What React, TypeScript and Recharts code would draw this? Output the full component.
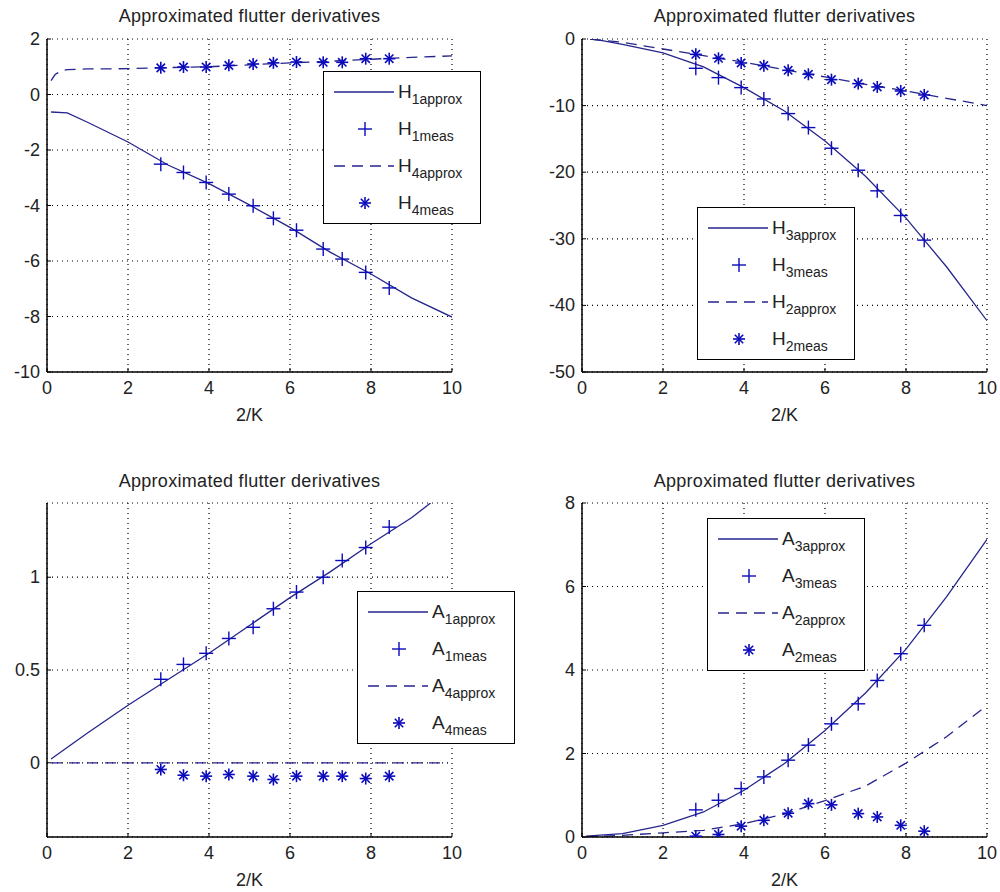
import React from "react";
import { CartesianGrid, ComposedChart, Label, Line, Scatter, XAxis, YAxis } from "recharts";

const LINE = "#25258c";
const MARK = "#0b0bbb";
const FONT = "Arial, 'Liberation Sans', Helvetica, sans-serif";

// reduced velocity (2/K) of the measured points, shared by all four panels
const kMeas = [2.81, 3.37, 3.93, 4.49, 5.09, 5.59, 6.16, 6.82, 7.29, 7.87, 8.45];

const h1Meas = [-2.51, -2.81, -3.17, -3.59, -4.01, -4.46, -4.89, -5.57, -5.93, -6.41, -6.97];
const h4Meas = [0.96, 0.99, 0.99, 1.05, 1.1, 1.14, 1.17, 1.16, 1.16, 1.29, 1.29];
const h3Meas = [-4.4, -5.8, -7.3, -9.0, -11.2, -13.3, -16.4, -19.7, -22.8, -26.5, -30.2];
const h2Meas = [-2.3, -2.9, -3.6, -4.0, -4.7, -5.3, -6.1, -6.7, -7.2, -7.8, -8.4];
const a1Meas = [0.45, 0.53, 0.59, 0.67, 0.73, 0.83, 0.92, 1.0, 1.09, 1.16, 1.27];
const a4Meas = [-0.036, -0.067, -0.072, -0.063, -0.072, -0.09, -0.072, -0.072, -0.072, -0.085, -0.072];
const a3Meas = [0.65, 0.88, 1.16, 1.44, 1.84, 2.2, 2.71, 3.19, 3.75, 4.39, 5.07];
const a2Meas = [0.02, 0.06, 0.26, 0.4, 0.57, 0.8, 0.77, 0.56, 0.48, 0.28, 0.14];

// approximated curves
const h1K = [0.1, 0.5, 1, 2, 3, 4, 5, 6, 7, 8, 9, 10];
const h1Approx = [-0.63, -0.66, -1.0, -1.71, -2.55, -3.21, -3.98, -4.79, -5.69, -6.47, -7.33, -8.02];
const h4K = [0.1, 0.2, 0.35, 0.5, 1, 2, 3, 4, 5, 6, 7, 8, 9, 10];
const h4Approx = [0.5, 0.72, 0.85, 0.9, 0.92, 0.93, 0.97, 1.0, 1.07, 1.14, 1.2, 1.27, 1.34, 1.39];
const h3K = [0.2, 0.5, 1, 2, 3, 4, 5, 6, 7, 8, 9, 10];
const h3Approx = [0, -0.25, -0.8, -2.1, -4.2, -7.3, -10.8, -15.3, -20.6, -26.9, -34.2, -42.3];
const h2K = [0.2, 1, 2, 3, 4, 5, 6, 7, 8, 9, 10];
const h2Approx = [0, -0.5, -1.5, -2.5, -3.5, -4.6, -5.7, -6.8, -7.8, -8.9, -10.0];
const a1K = [0.1, 1, 2, 3, 4, 5, 6, 7, 8, 9, 9.47];
const a1Approx = [0.02, 0.16, 0.31, 0.45, 0.59, 0.74, 0.89, 1.03, 1.18, 1.32, 1.4];
const a4K = [0.1, 9.9];
const a4Approx = [0, 0];
const a3K = [0.1, 1, 2, 3, 4, 5, 6, 7, 8, 9, 10];
const a3Approx = [0.02, 0.08, 0.28, 0.6, 1.12, 1.76, 2.55, 3.45, 4.5, 5.75, 7.13];
const a2K = [0.1, 1, 2, 3, 4, 5, 6, 7, 8, 9, 10];
const a2Approx = [0, 0.04, 0.1, 0.16, 0.32, 0.55, 0.87, 1.22, 1.77, 2.4, 3.15];

const kTicks = [0, 2, 4, 6, 8, 10];

type Pt = { x: number; y: number };
const pts = (xs: number[], ys: number[]): Pt[] => xs.map((x, i) => ({ x, y: ys[i] }));

function PlusMark({ cx, cy }: any) {
  if (cx == null || cy == null) return null;
  const r = 7;
  return (
    <g stroke={MARK} strokeWidth={1.4}>
      <line x1={cx - r} y1={cy} x2={cx + r} y2={cy} />
      <line x1={cx} y1={cy - r} x2={cx} y2={cy + r} />
    </g>
  );
}

function StarMark({ cx, cy }: any) {
  if (cx == null || cy == null) return null;
  const r = 6;
  const d = 4.2;
  return (
    <g stroke={MARK} strokeWidth={1.6}>
      <line x1={cx - r} y1={cy} x2={cx + r} y2={cy} />
      <line x1={cx} y1={cy - r} x2={cx} y2={cy + r} />
      <line x1={cx - d} y1={cy - d} x2={cx + d} y2={cy + d} />
      <line x1={cx - d} y1={cy + d} x2={cx + d} y2={cy - d} />
    </g>
  );
}

function XTick({ x, y, payload }: any) {
  return (
    <g>
      <line x1={x} y1={y} x2={x} y2={y - 4} stroke="#000" />
      <text x={x} y={y + 22} textAnchor="middle" fontSize={18} fontFamily={FONT} fill="#222">
        {payload.value}
      </text>
    </g>
  );
}

function YTick({ x, y, payload }: any) {
  return (
    <g>
      <line x1={x} y1={y} x2={x + 4} y2={y} stroke="#000" />
      <text x={x - 7} y={y + 6} textAnchor="end" fontSize={18} fontFamily={FONT} fill="#222">
        {payload.value}
      </text>
    </g>
  );
}

type LegendItem = { sym: string; sub: string; kind: "solid" | "plus" | "dashed" | "star" };

function LegendBox({ left, top, items }: { left: number; top: number; items: LegendItem[] }) {
  return (
    <div
      style={{
        position: "absolute",
        left,
        top,
        width: 158,
        height: 153,
        border: "1.5px solid #000",
        boxSizing: "border-box",
        background: "#fff",
        fontFamily: FONT,
        color: "#222",
      }}
    >
      {items.map((it, i) => (
        <div key={i} style={{ position: "absolute", left: 0, top: 20 + i * 37 - 12, height: 24, width: 156 }}>
          <svg width={72} height={24} style={{ position: "absolute", left: 0, top: 0 }}>
            {it.kind === "solid" && <line x1={10} y1={12} x2={70} y2={12} stroke={LINE} strokeWidth={1.3} />}
            {it.kind === "dashed" && (
              <line x1={10} y1={12} x2={70} y2={12} stroke={LINE} strokeWidth={1.3} strokeDasharray="11 7" />
            )}
            {it.kind === "plus" && <PlusMark cx={41} cy={12} />}
            {it.kind === "star" && <StarMark cx={41} cy={12} />}
          </svg>
          <div style={{ position: "absolute", left: 74, top: 0, whiteSpace: "nowrap", lineHeight: "24px" }}>
            <span style={{ fontSize: 19 }}>{it.sym}</span>
            <span style={{ fontSize: 14, position: "relative", top: 6 }}>{it.sub}</span>
          </div>
        </div>
      ))}
    </div>
  );
}

type PanelProps = {
  left: number;
  top: number;
  margin: { top: number; right: number; bottom: number; left: number };
  yDomain: [number, number];
  yTicks: number[];
  solid: Pt[];
  plus: Pt[];
  dashed: Pt[];
  star: Pt[];
  legendLeft: number;
  legendTop: number;
  legend: LegendItem[];
};

function Panel(p: PanelProps) {
  const plotLeft = p.left + p.margin.left + 40;
  const plotWidth = 500 - p.margin.left - 40 - p.margin.right;
  const titleY = p.top === 0 ? 16 : 481;
  return (
    <>
      <div
        style={{
          position: "absolute",
          left: plotLeft,
          top: titleY - 12,
          width: plotWidth,
          textAlign: "center",
          fontFamily: FONT,
          fontSize: 18,
          lineHeight: "24px",
          color: "#222",
          letterSpacing: 0.3,
        }}
      >
        Approximated flutter derivatives
      </div>
      <div style={{ position: "absolute", left: p.left, top: p.top }}>
        <ComposedChart width={500} height={446} margin={p.margin}>
          <CartesianGrid stroke="#000" strokeDasharray="1 4" strokeWidth={1.2} />
          <XAxis
            type="number"
            dataKey="x"
            domain={[0, 10]}
            ticks={kTicks}
            interval={0}
            height={30}
            tickSize={0}
            tickMargin={0}
            tickLine={false}
            tick={<XTick />}
            axisLine={{ stroke: "#000", strokeWidth: 1.5 }}
            allowDataOverflow
          >
            <Label value="2/K" position="bottom" offset={6} fontSize={18} fontFamily={FONT} fill="#222" />
          </XAxis>
          <YAxis
            type="number"
            dataKey="y"
            domain={p.yDomain}
            ticks={p.yTicks}
            interval={0}
            width={40}
            tickSize={0}
            tickMargin={0}
            tickLine={false}
            tick={<YTick />}
            axisLine={{ stroke: "#000", strokeWidth: 1.5 }}
            allowDataOverflow
          />
          <Line data={p.solid} dataKey="y" stroke={LINE} strokeWidth={1.3} dot={false} isAnimationActive={false} />
          <Line
            data={p.dashed}
            dataKey="y"
            stroke={LINE}
            strokeWidth={1.3}
            strokeDasharray="11 7"
            dot={false}
            isAnimationActive={false}
          />
          <Scatter data={p.plus} dataKey="y" shape={<PlusMark />} isAnimationActive={false} />
          <Scatter data={p.star} dataKey="y" shape={<StarMark />} isAnimationActive={false} />
        </ComposedChart>
      </div>
      <LegendBox left={p.legendLeft} top={p.legendTop} items={p.legend} />
    </>
  );
}

const legendH14: LegendItem[] = [
  { sym: "H", sub: "1approx", kind: "solid" },
  { sym: "H", sub: "1meas", kind: "plus" },
  { sym: "H", sub: "4approx", kind: "dashed" },
  { sym: "H", sub: "4meas", kind: "star" },
];
const legendH32: LegendItem[] = [
  { sym: "H", sub: "3approx", kind: "solid" },
  { sym: "H", sub: "3meas", kind: "plus" },
  { sym: "H", sub: "2approx", kind: "dashed" },
  { sym: "H", sub: "2meas", kind: "star" },
];
const legendA14: LegendItem[] = [
  { sym: "A", sub: "1approx", kind: "solid" },
  { sym: "A", sub: "1meas", kind: "plus" },
  { sym: "A", sub: "4approx", kind: "dashed" },
  { sym: "A", sub: "4meas", kind: "star" },
];
const legendA32: LegendItem[] = [
  { sym: "A", sub: "3approx", kind: "solid" },
  { sym: "A", sub: "3meas", kind: "plus" },
  { sym: "A", sub: "2approx", kind: "dashed" },
  { sym: "A", sub: "2meas", kind: "star" },
];

export default function App() {
  return (
    <div style={{ position: "absolute", left: 0, top: 0, width: 1000, height: 892, background: "#fff", overflow: "hidden" }}>
      <Panel
        left={0}
        top={0}
        margin={{ top: 39, right: 48, bottom: 44, left: 7 }}
        yDomain={[-10, 2]}
        yTicks={[-10, -8, -6, -4, -2, 0, 2]}
        solid={pts(h1K, h1Approx)}
        plus={pts(kMeas, h1Meas)}
        dashed={pts(h4K, h4Approx)}
        star={pts(kMeas, h4Meas)}
        legendLeft={323}
        legendTop={71}
        legend={legendH14}
      />
      <Panel
        left={500}
        top={0}
        margin={{ top: 39, right: 13, bottom: 44, left: 42 }}
        yDomain={[-50, 0]}
        yTicks={[-50, -40, -30, -20, -10, 0]}
        solid={pts(h3K, h3Approx)}
        plus={pts(kMeas, h3Meas)}
        dashed={pts(h2K, h2Approx)}
        star={pts(kMeas, h2Meas)}
        legendLeft={697}
        legendTop={207}
        legend={legendH32}
      />
      <Panel
        left={0}
        top={446}
        margin={{ top: 57, right: 48, bottom: 25, left: 7 }}
        yDomain={[-0.4, 1.4]}
        yTicks={[0, 0.5, 1]}
        solid={pts(a1K, a1Approx)}
        plus={pts(kMeas, a1Meas)}
        dashed={pts(a4K, a4Approx)}
        star={pts(kMeas, a4Meas)}
        legendLeft={357}
        legendTop={591}
        legend={legendA14}
      />
      <Panel
        left={500}
        top={446}
        margin={{ top: 57, right: 13, bottom: 25, left: 42 }}
        yDomain={[0, 8]}
        yTicks={[0, 2, 4, 6, 8]}
        solid={pts(a3K, a3Approx)}
        plus={pts(kMeas, a3Meas)}
        dashed={pts(a2K, a2Approx)}
        star={pts(kMeas, a2Meas)}
        legendLeft={707}
        legendTop={518}
        legend={legendA32}
      />
    </div>
  );
}
